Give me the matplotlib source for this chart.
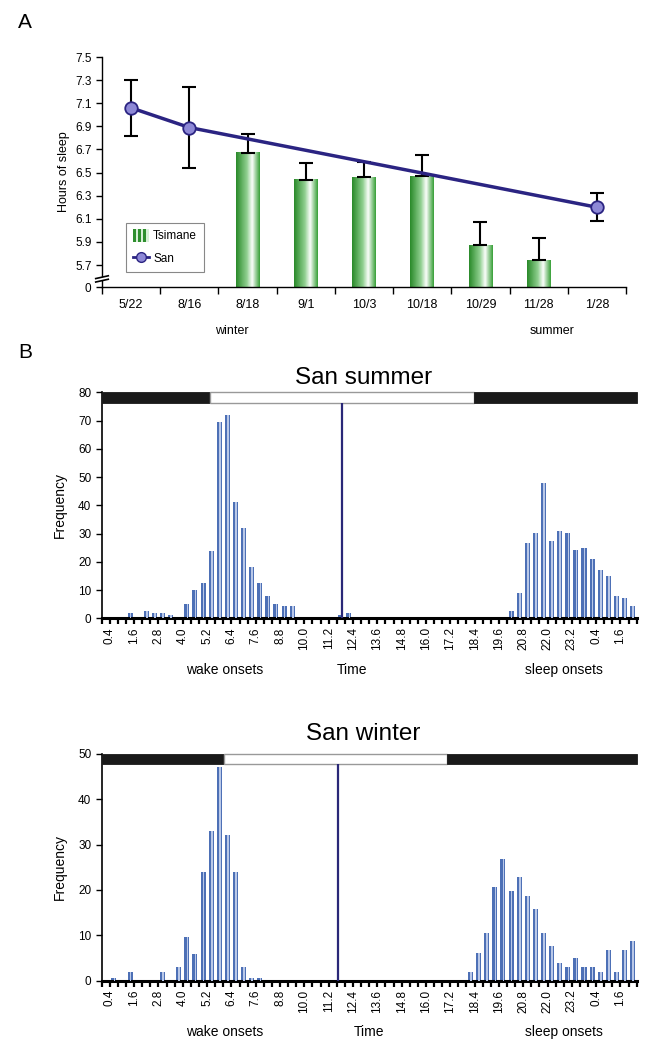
import numpy as np
import matplotlib
matplotlib.use('Agg')
import matplotlib.pyplot as plt
from matplotlib.colors import LinearSegmentedColormap
from matplotlib.patches import Rectangle
from matplotlib.legend_handler import HandlerBase
from matplotlib.lines import Line2D
import matplotlib.transforms as mtransforms

plt.rcParams['font.family'] = ['Liberation Sans', 'DejaVu Sans']

# ---------------- data: panel A ----------------
dates = ['5/22', '8/16', '8/18', '9/1', '10/3', '10/18', '10/29', '11/28', '1/28']
tsimane_pos = [2, 3, 4, 5, 6, 7]
tsimane_hours = [6.67, 6.44, 6.46, 6.47, 5.87, 5.74]
tsimane_err = [0.16, 0.14, 0.13, 0.18, 0.20, 0.19]
san_pos = [0, 1, 8]
san_hours = [7.06, 6.89, 6.20]
san_err = [0.24, 0.35, 0.12]
a_yticks = [5.7, 5.9, 6.1, 6.3, 6.5, 6.7, 6.9, 7.1, 7.3, 7.5]
a_ylabels = ['5.7', '5.9', '6.1', '6.3', '6.5', '6.7', '6.9', '7.1', '7.3', '7.5']
season_labels = ['winter', 'summer']

# ---------------- data: panel B ----------------
time_labels = ['0.4', '1.6', '2.8', '4.0', '5.2', '6.4', '7.6', '8.8', '10.0', '11.2',
               '12.4', '13.6', '14.8', '16.0', '17.2', '18.4', '19.6', '20.8', '22.0',
               '23.2', '0.4', '1.6']
summer_counts = [0, 0, 0, 2, 0, 2.5, 2, 2, 1, 0,
                 5, 10, 12.5, 24, 69.5, 72, 41, 32, 18, 12.5,
                 8, 5, 4.4, 4.4, 0, 0, 0, 0, 0, 1,
                 2, 0, 0, 0, 0, 0, 0, 0, 0, 0,
                 0, 0, 0, 0, 0, 0, 0, 0, 0, 0,
                 2.5, 9, 26.5, 30.3, 47.8, 27.3, 30.9, 30.3, 24.2, 24.9,
                 21, 17.2, 15, 7.9, 7.3, 4.4]
winter_counts = [0, 0.5, 0, 2, 0, 0, 0, 2, 0, 3,
                 9.7, 5.9, 24, 33, 47, 32, 24, 3, 0.5, 0.5,
                 0, 0, 0, 0, 0, 0, 0, 0, 0, 0,
                 0, 0, 0, 0, 0, 0, 0, 0, 0, 0,
                 0, 0, 0, 0, 0, 2, 6, 10.6, 20.6, 26.7,
                 19.7, 22.9, 18.6, 15.8, 10.6, 7.6, 4, 3, 4.9, 3,
                 3, 2, 6.8, 2, 6.8, 8.7]

W, H = 659, 1050
fig = plt.figure(figsize=(W / 100, H / 100), dpi=100)


def ax_px(l, t, r, b):
    return fig.add_axes([l / W, 1 - b / H, (r - l) / W, (b - t) / H])


# ================= Panel A =================
axA = ax_px(102, 57, 626, 287)
ybot = 5.51
green = LinearSegmentedColormap.from_list(
    'g', [(0, '#2a8a2a'), (0.45, '#8fcf8f'), (0.68, '#fbfefb'), (1, '#38a038')])
grad = np.linspace(0, 1, 64).reshape(1, -1)
bw = 0.41
for x, h in zip(tsimane_pos, tsimane_hours):
    axA.imshow(grad, cmap=green, extent=[x - bw / 2, x + bw / 2, ybot, h],
               aspect='auto', zorder=2, interpolation='bilinear')
axA.errorbar(tsimane_pos, tsimane_hours,
             yerr=[np.zeros(len(tsimane_err)), tsimane_err],
             fmt='none', ecolor='black', elinewidth=1.5, capsize=5, capthick=1.5, zorder=3)
axA.errorbar(san_pos, san_hours, yerr=san_err, fmt='none', ecolor='black',
             elinewidth=1.5, capsize=5, capthick=1.5, zorder=3)
axA.plot(san_pos, san_hours, color='#2b2482', lw=2.5, zorder=4)
axA.plot(san_pos, san_hours, 'o', ms=9, mfc='#8d88d6', mec='#2b2482', mew=1.3, zorder=5)

axA.set_xlim(-0.5, len(dates) - 0.5)
axA.set_ylim(ybot, 7.5)
axA.set_yticks([ybot] + a_yticks)
axA.set_yticklabels(['0'] + a_ylabels, fontsize=8.5)
axA.set_xticks(range(len(dates)))
axA.set_xticklabels(dates, fontsize=9)
axA.set_xticks(np.arange(-0.5, len(dates), 1), minor=True)
axA.tick_params(axis='x', which='major', length=0, pad=9)
axA.tick_params(axis='x', which='minor', length=5, width=1, direction='out')
axA.tick_params(axis='y', length=4, width=1, direction='out')
for s in ['top', 'right']:
    axA.spines[s].set_visible(False)
axA.spines['left'].set_linewidth(1)
axA.spines['bottom'].set_linewidth(1)
axA.set_ylabel('Hours of sleep', fontsize=9, labelpad=4)

# axis break mark
bt = mtransforms.blended_transform_factory(axA.transAxes, axA.transData)
axA.add_patch(Rectangle((-0.012, 5.565), 0.024, 0.03, transform=bt, facecolor='white',
                        edgecolor='none', clip_on=False, zorder=6))
for yy in (5.565, 5.595):
    axA.plot([-0.012, 0.012], [yy - 0.012, yy + 0.012], transform=bt, color='black',
             lw=1.2, clip_on=False, zorder=7)

# season labels
st = mtransforms.blended_transform_factory(axA.transData, axA.transAxes)
axA.text(1.73, -0.19, season_labels[0], transform=st, ha='center', va='center', fontsize=9)
axA.text(7.23, -0.19, season_labels[1], transform=st, ha='center', va='center', fontsize=9)


class StripeHandler(HandlerBase):
    def create_artists(self, legend, orig_handle, xdescent, ydescent, width, height,
                       fontsize, trans):
        arts = []
        n = 3
        w = width / n
        for i in range(n):
            for j, (c, f) in enumerate([('#2f8f2f', 0.55), ('#d8f0d8', 0.45)]):
                x0 = -xdescent + i * w + (0 if j == 0 else w * 0.55)
                r = Rectangle((x0, -ydescent - 1), w * f, height + 2, facecolor=c,
                              edgecolor='none', transform=trans)
                arts.append(r)
        return arts


tsim_handle = Rectangle((0, 0), 1, 1)
san_handle = Line2D([], [], color='#2b2482', lw=2, marker='o', ms=7,
                    mfc='#8d88d6', mec='#2b2482')
leg = axA.legend([tsim_handle, san_handle], ['Tsimane', 'San'],
                 handler_map={Rectangle: StripeHandler()},
                 loc='lower left', bbox_to_anchor=(0.046, 0.065), borderaxespad=0,
                 fontsize=8.5, fancybox=False, edgecolor='#888888', framealpha=1,
                 handlelength=1.3, handleheight=0.9, borderpad=0.6, labelspacing=0.9,
                 handletextpad=0.4)
leg.get_frame().set_linewidth(0.8)

fig.text(18 / W, 1 - 22 / H, 'A', fontsize=15, ha='left', va='center')
fig.text(18 / W, 1 - 352 / H, 'B', fontsize=15, ha='left', va='center')


# ================= Panel B =================
def hist_panel(top, bottom, counts, ymax, band, noon, title, title_y, time_x, lab_y):
    ax = ax_px(101.7, top, 636.7, bottom)
    n = len(counts)
    x = np.arange(n) + 0.5
    c = np.array(counts, dtype=float)
    m = c > 0
    ax.bar(x[m], c[m], width=0.62, color='#4d70b6', zorder=2)
    ax.bar(x[m] + 0.07, c[m], width=0.2, color='#b9c8e8', zorder=3)
    band_lo = band[0]
    bh = ymax - band_lo
    ax.add_patch(Rectangle((0, band_lo), band[1], bh, facecolor='#1a1a1a',
                           edgecolor='#1a1a1a', lw=0.6, zorder=4, clip_on=False))
    ax.add_patch(Rectangle((band[1], band_lo), band[2] - band[1], bh, facecolor='white',
                           edgecolor='#999999', lw=1.0, zorder=4, clip_on=False))
    ax.add_patch(Rectangle((band[2], band_lo), n - band[2], bh, facecolor='#1a1a1a',
                           edgecolor='#1a1a1a', lw=0.6, zorder=4, clip_on=False))
    ax.vlines(noon, 0, band_lo, color='#2a2878', lw=1.6, zorder=5)
    ax.set_xlim(0, n)
    ax.set_ylim(0, ymax)
    ax.set_yticks(np.arange(0, ymax + 1, 10))
    ax.tick_params(axis='y', labelsize=8.5, length=4, width=1, direction='out')
    ticks = np.arange(0, n + 1)
    labs = [''] * len(ticks)
    for j, t in enumerate(time_labels):
        labs[1 + 3 * j] = t
    ax.set_xticks(ticks)
    ax.set_xticklabels(labs, rotation=90, fontsize=8.5)
    ax.tick_params(axis='x', length=4.5, width=1.6, direction='out', pad=2)
    for s in ['top', 'right']:
        ax.spines[s].set_visible(False)
    ax.spines['left'].set_linewidth(1.2)
    ax.spines['bottom'].set_linewidth(2.2)
    ax.set_ylabel('Frequency', fontsize=10, labelpad=8)
    fig.text(363.5 / W, 1 - title_y / H, title, fontsize=17.5, ha='center', va='center')
    fig.text(225 / W, 1 - lab_y / H, 'wake onsets', fontsize=10, ha='center', va='center')
    fig.text(time_x / W, 1 - lab_y / H, 'Time', fontsize=10, ha='center', va='center')
    fig.text(564 / W, 1 - lab_y / H, 'sleep onsets', fontsize=10, ha='center', va='center')
    return ax


hist_panel(392.3, 618.3, summer_counts, 80, (76.3, 13.4, 45.9), 29.6,
           'San summer', 377.5, 352, 670)
hist_panel(753.7, 980.7, winter_counts, 50, (47.7, 15.05, 42.6), 29.1,
           'San winter', 734, 369, 1032)

fig.savefig('out.png', dpi=100)
